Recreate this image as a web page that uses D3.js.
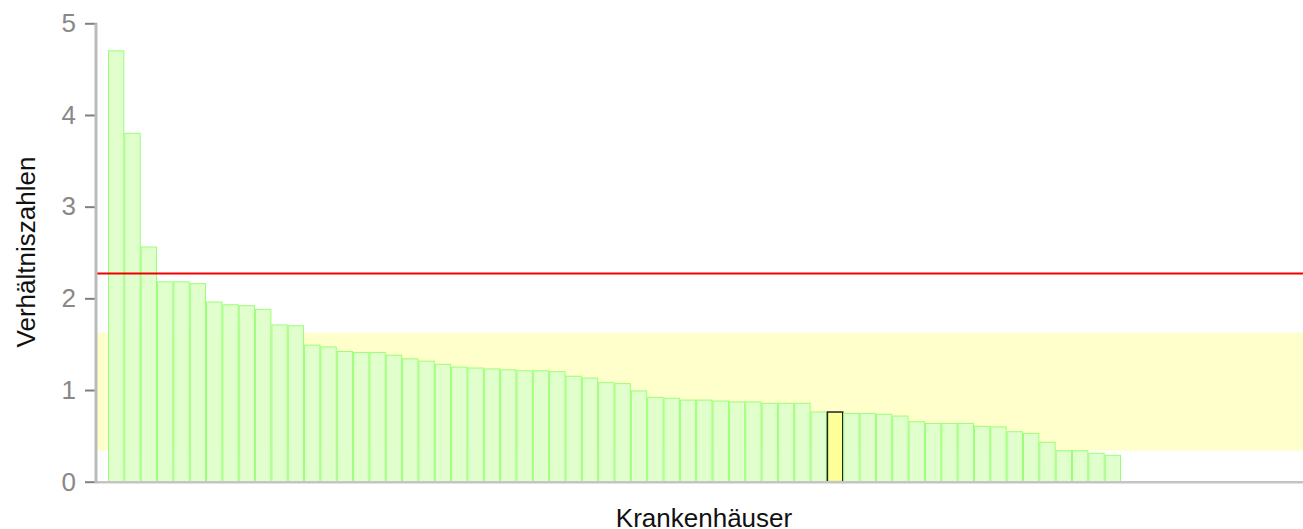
<!DOCTYPE html>
<html>
<head>
<meta charset="utf-8">
<script src="https://cdn.jsdelivr.net/npm/d3@7"></script>
<style>
  body { margin: 0; background: #fff; }
  text { font-family: "Liberation Sans", Arial, sans-serif; }
</style>
</head>
<body>
<svg id="chart"></svg>
<script>
// ratio per hospital, sorted descending
let values = [4.70, 3.80, 2.56, 2.18, 2.18, 2.16, 1.96, 1.93, 1.92, 1.88,
  1.71, 1.70, 1.49, 1.47, 1.42, 1.41, 1.41, 1.38, 1.34, 1.315,
  1.28, 1.25, 1.24, 1.23, 1.22, 1.21, 1.21, 1.20, 1.15, 1.13,
  1.08, 1.07, 0.99, 0.92, 0.91, 0.89, 0.89, 0.88, 0.87, 0.87,
  0.855, 0.855, 0.855, 0.76, 0.76, 0.745, 0.745, 0.735, 0.716, 0.654,
  0.636, 0.636, 0.636, 0.604, 0.597, 0.545, 0.527, 0.43, 0.338, 0.338,
  0.31, 0.288];
let hospitals = values.map((d, i) => "KH " + (i + 1));
let highlighted = "KH 45";
let bandRange = [0.338, 1.625];
let refLine = 2.27;
let yTicks = [0, 1, 2, 3, 4, 5];

let width = 1303;
let height = 529;
let plotLeft = 97;
let plotRight = 1303;

let yScale = d3.scaleLinear().domain([0, 5]).range([481.7, 23.3]);
let xScale = d3.scaleBand().domain(hospitals).range([108, 1121]).padding(0);

let svg = d3.select("#chart").attr("width", width).attr("height", height);

// yellow band
svg.append("rect")
  .attr("x", plotLeft)
  .attr("width", plotRight - plotLeft)
  .attr("y", yScale(bandRange[1]))
  .attr("height", yScale(bandRange[0]) - yScale(bandRange[1]))
  .attr("fill", "#ffffcc");

svg.selectAll("rect.bar")
  .data(hospitals)
  .enter()
  .append("rect")
  .attr("class", "bar")
  .attr("x", (d) => xScale(d) + 0.5)
  .attr("width", xScale.bandwidth() - 1)
  .attr("y", (d, i) => yScale(values[i]))
  .attr("height", (d, i) => yScale(0) - yScale(values[i]))
  .attr("fill", (d) => d === highlighted ? "#ffff99" : "#e1ffcd")
  .attr("stroke", (d) => d === highlighted ? "#222" : "#99ff77")
  .attr("stroke-width", (d) => d === highlighted ? 1.5 : 1);

// red reference line
svg.append("line")
  .attr("x1", plotLeft)
  .attr("x2", plotRight)
  .attr("y1", yScale(refLine))
  .attr("y2", yScale(refLine))
  .attr("stroke", "#ee0000")
  .attr("stroke-width", 2);

// x axis line
svg.append("line")
  .attr("x1", plotLeft)
  .attr("x2", plotRight)
  .attr("y1", yScale(0) + 0.5)
  .attr("y2", yScale(0) + 0.5)
  .attr("stroke", "#c4c4c4")
  .attr("stroke-width", 2.5);

// y axis
let yAxis = svg.append("g")
  .attr("transform", "translate(" + plotLeft + ",0)")
  .call(d3.axisLeft(yScale).tickValues(yTicks).tickFormat(d3.format("d")).tickSize(12).tickPadding(9));
yAxis.select(".domain").remove();
yAxis.selectAll(".tick line").attr("stroke", "#808080").attr("stroke-width", 2);
yAxis.selectAll(".tick text")
  .attr("fill", "#888")
  .style("font-size", "26px")
  .style("font-family", "'Liberation Sans', Arial, sans-serif");
svg.append("line")
  .attr("x1", plotLeft - 1)
  .attr("x2", plotLeft - 1)
  .attr("y1", yScale(5))
  .attr("y2", yScale(0) + 1.5)
  .attr("stroke", "#bbbbbb")
  .attr("stroke-width", 3);

// titles
svg.append("text")
  .attr("x", 704)
  .attr("y", 527)
  .attr("text-anchor", "middle")
  .attr("fill", "#111")
  .style("font-size", "26px")
  .text("Krankenhäuser");

svg.append("text")
  .attr("transform", "translate(35,252) rotate(-90)")
  .attr("text-anchor", "middle")
  .attr("fill", "#111")
  .style("font-size", "26px")
  .text("Verhältniszahlen");
</script>
</body>
</html>
